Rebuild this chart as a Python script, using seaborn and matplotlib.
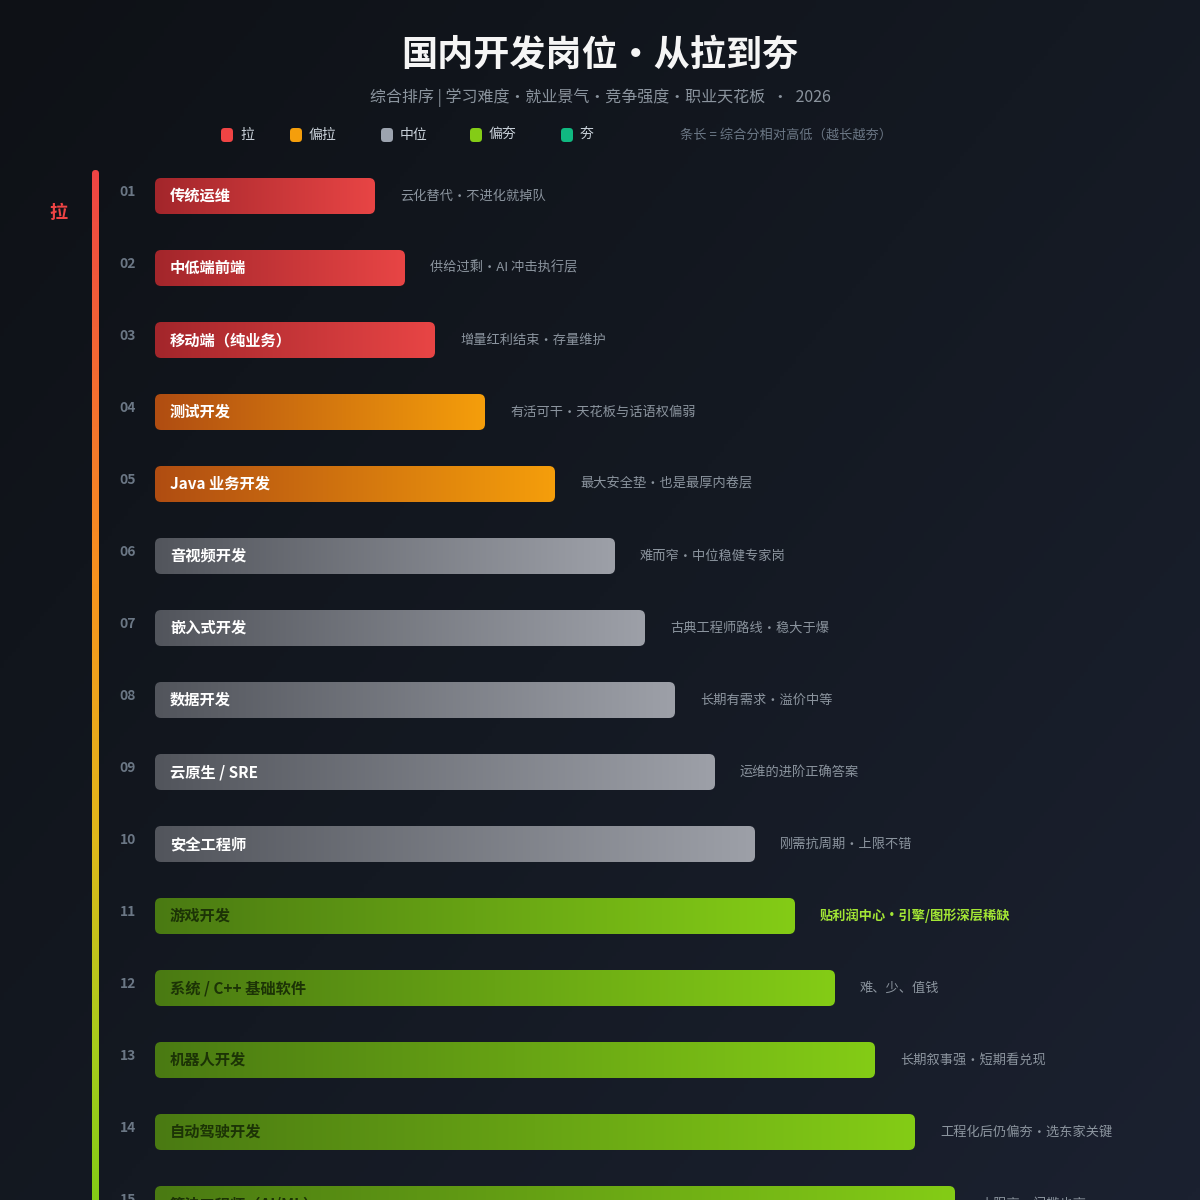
import numpy as np
import matplotlib.pyplot as plt
import seaborn as sns
from matplotlib.colors import LinearSegmentedColormap
from matplotlib.patches import FancyBboxPatch

sns.set_theme(style="dark")
plt.rcParams['font.family'] = ['Noto Sans CJK SC', 'DejaVu Sans']

# 数据
ranks = ['01', '02', '03', '04', '05', '06', '07', '08', '09', '10', '11', '12', '13', '14', '15']
jobs = ['传统运维', '中低端前端', '移动端（纯业务）', '测试开发', 'Java 业务开发',
        '音视频开发', '嵌入式开发', '数据开发', '云原生 / SRE', '安全工程师',
        '游戏开发', '系统 / C++ 基础软件', '机器人开发', '自动驾驶开发', '算法工程师（AI/ML）']
scores = [22, 25, 28, 33, 40, 46, 49, 52, 56, 60, 64, 68, 72, 76, 80]
tiers = ['拉', '拉', '拉', '偏拉', '偏拉', '中位', '中位', '中位', '中位', '中位',
         '偏夯', '偏夯', '偏夯', '偏夯', '偏夯']
notes = ['云化替代·不进化就掉队', '供给过剩·AI 冲击执行层', '增量红利结束·存量维护',
         '有活可干·天花板与话语权偏弱', '最大安全垫·也是最厚内卷层', '难而窄·中位稳健专家岗',
         '古典工程师路线·稳大于爆', '长期有需求·溢价中等', '运维的进阶正确答案',
         '刚需抗周期·上限不错', '贴利润中心·引擎/图形深层稀缺', '难、少、值钱',
         '长期叙事强·短期看兑现', '工程化后仍偏夯·选东家关键', '上限高·门槛也高']
highlight = [10]

tier_names = ['拉', '偏拉', '中位', '偏夯', '夯']
tier_dot = {'拉': '#ef4444', '偏拉': '#f59e0b', '中位': '#9ca3af', '偏夯': '#84cc16', '夯': '#10b981'}
tier_grad = {'拉': ('#a3262b', '#e84545'), '偏拉': ('#b04d12', '#f59e0b'),
             '中位': ('#52555c', '#9da0a8'), '偏夯': ('#4a7a12', '#84cc16'),
             '夯': ('#0b6b4d', '#10b981')}
tier_text = {'拉': '#ffffff', '偏拉': '#ffffff', '中位': '#ffffff', '偏夯': '#1c3306', '夯': '#ffffff'}

fig = plt.figure(figsize=(12, 12), dpi=100, facecolor='#12161d')

# 背景
bg = fig.add_axes([0, 0, 1, 1], zorder=0)
gx, gy = np.meshgrid(np.linspace(0, 1, 300), np.linspace(0, 1, 300))
bg_cmap = LinearSegmentedColormap.from_list('bg', ['#0e1116', '#141922', '#1b2130'])
bg.imshow(gx * 0.55 + gy * 0.45, cmap=bg_cmap, extent=[0, 1200, 1200, 0], aspect='auto')

# 左侧渐变竖线
line_cmap = LinearSegmentedColormap.from_list(
    'line', [(0, '#ef4444'), (0.4, '#f7931e'), (0.65, '#e0b81a'), (0.85, '#a8cc1c'), (1, '#84cc16')])
vline = bg.imshow(np.linspace(0, 1, 256).reshape(-1, 1), cmap=line_cmap,
                  extent=[92, 99, 1200, 170], aspect='auto')
vclip = FancyBboxPatch((92, 170), 7, 1100, boxstyle='round,pad=0,rounding_size=3.5',
                       facecolor='none', edgecolor='none')
bg.add_patch(vclip)
vline.set_clip_path(vclip)
bg.set_xlim(0, 1200)
bg.set_ylim(1200, 0)
bg.set_axis_off()

fig.text(58 / 1200, 1 - 213 / 1200, '拉', color='#ef4444', fontsize=13, fontweight='bold',
         ha='center', va='center', zorder=5)

# 标题
fig.text(0.5, 1 - 55 / 1200, '国内开发岗位•从拉到夯', color='#f5f5f5', fontsize=26,
         fontweight='bold', ha='center', va='center', zorder=5)
fig.text(0.5, 1 - 98 / 1200, '综合排序 | 学习难度·就业景气·竞争强度·职业天花板  ·  2026',
         color='#8b949e', fontsize=11.5, ha='center', va='center', zorder=5)

# 图例
leg_x = [221, 290, 381, 470, 561]
for t, lx in zip(tier_names, leg_x):
    fig.add_artist(FancyBboxPatch((lx / 1200, 1 - 142 / 1200), 12 / 1200, 14 / 1200,
                                  boxstyle='round,pad=0,rounding_size=0.003',
                                  transform=fig.transFigure, facecolor=tier_dot[t],
                                  edgecolor='none', zorder=5))
    fig.text((lx + 19) / 1200, 1 - 135 / 1200, t, color='#c9d1d9', fontsize=10,
             ha='left', va='center', zorder=5)
fig.text(680 / 1200, 1 - 135 / 1200, '条长 = 综合分相对高低（越长越夯）', color='#6b7785',
         fontsize=9.5, ha='left', va='center', zorder=5)

# 主图
ax = fig.add_axes([0, 0, 1, 1 - 160 / 1200], zorder=2)
ax.set_facecolor('none')
sns.barplot(x=scores, y=jobs, hue=tiers, palette=tier_dot, orient='h', width=0.5,
            dodge=False, legend=False, ax=ax)

for p in list(ax.patches):
    w = p.get_width()
    if not np.isfinite(w) or w <= 0:
        p.set_visible(False)
        continue
    x0, y0, h = p.get_x(), p.get_y(), p.get_height()
    i = int(round(y0 + h / 2))
    c0, c1 = tier_grad[tiers[i]]
    cmap = LinearSegmentedColormap.from_list('b%d' % i, [c0, c1])
    clip = FancyBboxPatch((x0, y0), w, h, boxstyle='round,pad=0,rounding_size=0.6',
                          mutation_aspect=10 / 72, facecolor='none', edgecolor='none')
    ax.add_patch(clip)
    im = ax.imshow(np.linspace(0, 1, 256).reshape(1, -1), cmap=cmap, aspect='auto',
                   extent=[x0, x0 + w, y0 + h, y0], zorder=3)
    im.set_clip_path(clip)
    p.set_visible(False)

for i, (r, job, s, t, n) in enumerate(zip(ranks, jobs, scores, tiers, notes)):
    ax.annotate(r, xy=(0, i), xytext=(-27, 4), textcoords='offset pixels', ha='center',
                va='center', color='#6b7785', fontsize=10, fontweight='bold', zorder=4,
                annotation_clip=False)
    ax.annotate(job, xy=(0, i), xytext=(15, 0), textcoords='offset pixels', ha='left',
                va='center', color=tier_text[t], fontsize=11, fontweight='bold', zorder=4,
                annotation_clip=False)
    if i in highlight:
        ax.annotate(n, xy=(s, i), xytext=(25, 0), textcoords='offset pixels', ha='left',
                    va='center', color='#a3e635', fontsize=9.5, fontweight='bold', zorder=4,
                    annotation_clip=False)
    else:
        ax.annotate(n, xy=(s, i), xytext=(25, 0), textcoords='offset pixels', ha='left',
                    va='center', color='#8b949e', fontsize=9.5, zorder=4,
                    annotation_clip=False)

ax.set_xlim(-15.5, 104.5)
ax.set_ylim((1200 - 196) / 72, -0.5)
ax.set_axis_off()

fig.savefig('out.png', dpi=100, facecolor=fig.get_facecolor())
